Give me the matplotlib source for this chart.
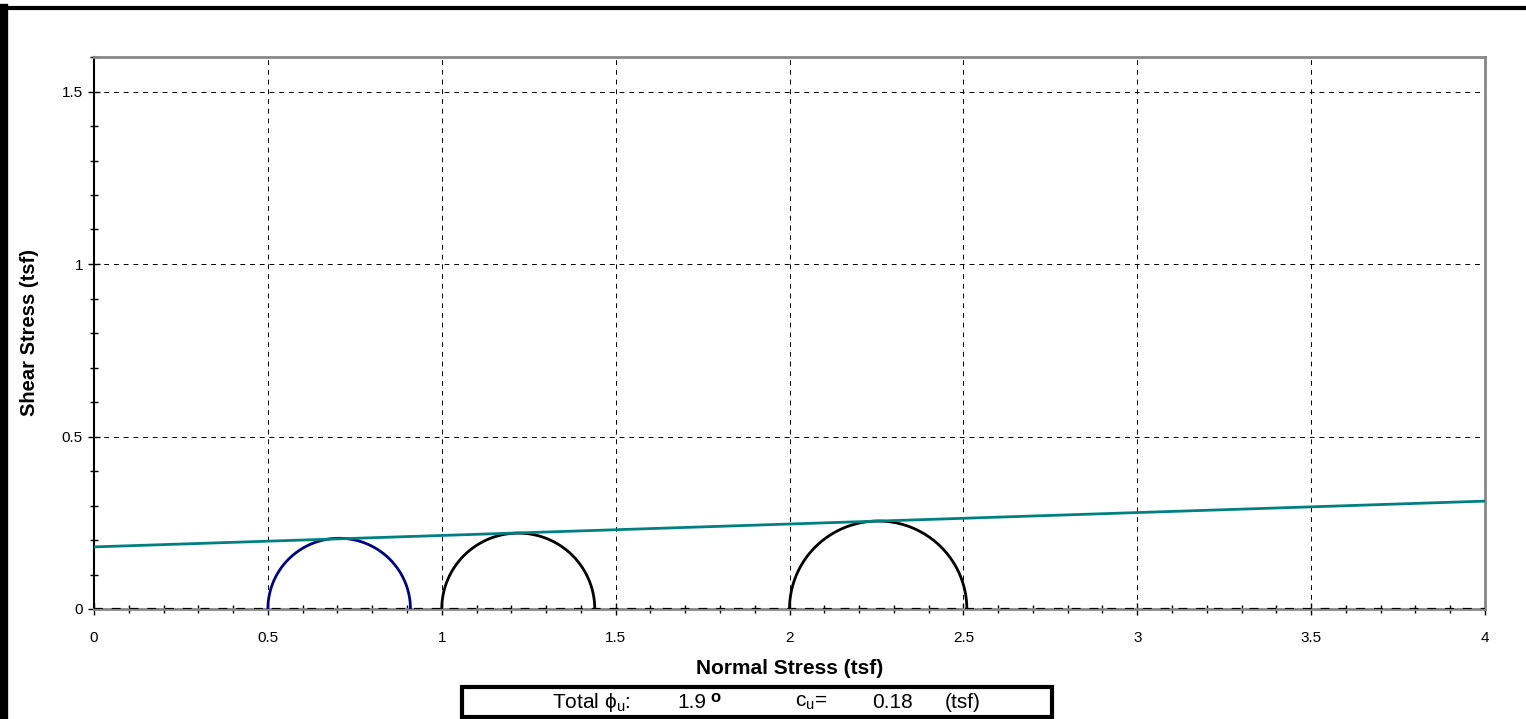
import numpy as np
import matplotlib
matplotlib.use("Agg")
import matplotlib.pyplot as plt
from matplotlib.patches import Rectangle
from matplotlib.ticker import MultipleLocator

plt.rcParams['font.family'] = ['Liberation Sans', 'DejaVu Sans']

# Mohr circles: (sigma3, sigma1)
sigma3 = [0.50, 1.00, 2.00]
sigma1 = [0.91, 1.44, 2.51]
circle_colors = ['#000080', '#000000', '#000000']
phi_u = 1.9      # degrees
c_u = 0.18       # tsf
x_max = 4.0
y_max = 1.6

fig = plt.figure(figsize=(15.26, 7.19), dpi=100)
ax = fig.add_axes([94/1526, 110/719, (1485-94)/1526, (609-57)/719])

# figure frame lines (top and left)
fig.add_artist(plt.Line2D([0, 1], [1-8/719, 1-8/719], transform=fig.transFigure, color='black', lw=3))
fig.add_artist(plt.Line2D([4/1526, 4/1526], [0, 1-8/719], transform=fig.transFigure, color='black', lw=6))

theta = np.linspace(0, np.pi, 300)
for s3, s1, col in zip(sigma3, sigma1, circle_colors):
    c = (s1 + s3) / 2
    r = (s1 - s3) / 2
    ax.plot(c + r*np.cos(theta), r*np.sin(theta), color=col, lw=2, zorder=4)

xs = np.array([0, x_max])
ax.plot(xs, c_u + np.tan(np.radians(phi_u))*xs, color='#008080', lw=2, zorder=5)
ax.axhline(0, color='black', lw=1.6, ls=(0, (4, 4)), zorder=3)

ax.set_xlim(0, x_max)
ax.set_ylim(0, y_max)
ax.xaxis.set_minor_locator(MultipleLocator(0.1))
ax.yaxis.set_minor_locator(MultipleLocator(0.1))
ax.set_xticks([0, 0.5, 1, 1.5, 2, 2.5, 3, 3.5, 4])
ax.set_xticklabels(['0', '0.5', '1', '1.5', '2', '2.5', '3', '3.5', '4'])
ax.set_yticks([0, 0.5, 1, 1.5])
ax.set_yticklabels(['0', '0.5', '1', '1.5'])
ax.grid(True, which='major', color='black', ls=(0, (5, 5)), lw=0.7)
ax.tick_params(which='both', direction='inout', labelsize=11, color='black')
ax.tick_params(which='major', length=8, width=1)
ax.tick_params(which='minor', length=6, width=1)
ax.tick_params(axis='x', pad=12)
ax.tick_params(axis='y', pad=4)
for s in ['top', 'right', 'bottom']:
    ax.spines[s].set_color('#888888')
    ax.spines[s].set_linewidth(2)
ax.spines['left'].set_color('black')
ax.spines['left'].set_linewidth(1.5)

ax.set_xlabel('Normal Stress (tsf)', fontsize=15, fontweight='bold')
ax.xaxis.set_label_coords(0.5, -(668-609)/552, transform=ax.transAxes)
ax.xaxis.label.set_va('center')
ax.set_ylabel('Shear Stress (tsf)', fontsize=14.5, fontweight='bold')
ax.yaxis.set_label_coords(-(94-30)/1391, 0.5, transform=ax.transAxes)
ax.yaxis.label.set_va('center')

# result box
fig.add_artist(Rectangle((462/1526, 2/719), (1052-462)/1526, (30)/719,
                         transform=fig.transFigure, fill=False, ec='black', lw=3))
yb = 1 - 703/719
fs = 15
fig.text(552/1526, yb, r'Total $\mathregular{\phi_u}$:', fontsize=fs, ha='left', va='center')
fig.text(677/1526, yb, '1.9', fontsize=fs, ha='left', va='center')
fig.text(715/1526, yb + 6/719, 'o', fontsize=12, fontweight='bold', ha='center', va='center')
fig.text(795/1526, yb, r'$\mathregular{c_u}$=', fontsize=fs, ha='left', va='center')
fig.text(872/1526, yb, '0.18', fontsize=fs, ha='left', va='center')
fig.text(945/1526, yb, '(tsf)', fontsize=fs, ha='left', va='center')

fig.savefig('out.png', dpi=100)
